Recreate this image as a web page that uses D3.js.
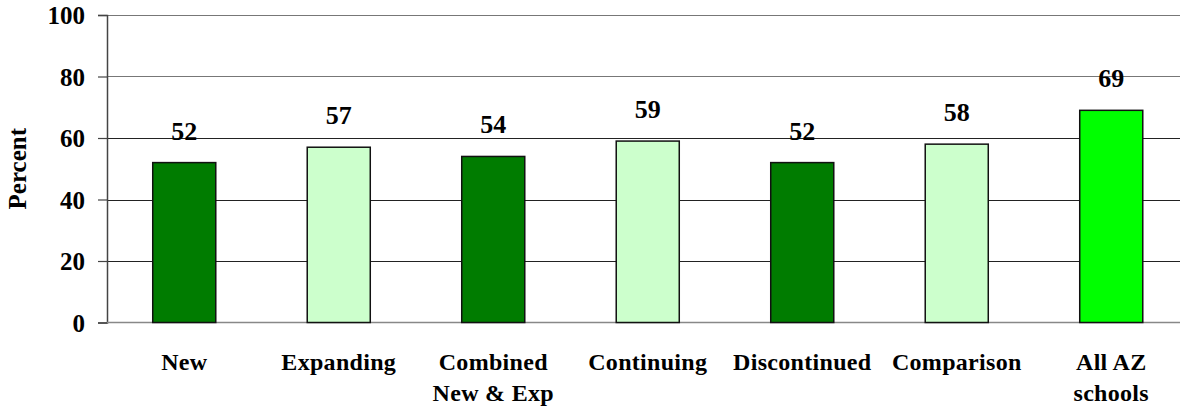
<!DOCTYPE html>
<html>
<head>
<meta charset="utf-8">
<script src="https://cdn.jsdelivr.net/npm/d3@7"></script>
<style>
  body { margin: 0; background: #fff; }
  svg text { font-family: "Liberation Serif", "Times New Roman", serif; font-weight: bold; fill: #000; }
</style>
</head>
<body>
<div id="chart"></div>
<script>
"use strict";

// data
var categories = [["New"], ["Expanding"], ["Combined", "New & Exp"], ["Continuing"], ["Discontinued"], ["Comparison"], ["All AZ", "schools"]];
var values = [52, 57, 54, 59, 52, 58, 69];
var barColors = ["#007c00", "#ccffcc", "#007c00", "#ccffcc", "#007c00", "#ccffcc", "#00ff00"];
var yTicks = [0, 20, 40, 60, 80, 100];

var width = 1180;
var height = 408;
var margin = { top: 15, left: 107, bottom: 322.5 };
var step = 154.5;

var svg = d3.select("#chart")
  .append("svg")
  .attr("width", width)
  .attr("height", height);

var x = d3.scaleBand()
  .domain(d3.range(values.length))
  .range([margin.left, margin.left + step * values.length])
  .paddingInner(0.592)
  .paddingOuter(0.296);

var y = d3.scaleLinear()
  .domain([0, 100])
  .range([margin.bottom, margin.top]);

// grid lines
svg.append("g")
  .selectAll("line")
  .data(yTicks.filter(function(d) { return d > 0; }))
  .enter()
  .append("line")
    .attr("x1", margin.left)
    .attr("x2", width)
    .attr("y1", function(d) { return Math.round(y(d)) + 0.5; })
    .attr("y2", function(d) { return Math.round(y(d)) + 0.5; })
    .attr("stroke", function(d) { return d >= 80 ? "#777" : "#222"; })
    .attr("stroke-width", 1.2);

// y axis
var yAxis = svg.append("g")
  .attr("transform", "translate(" + margin.left + ",0)")
  .call(d3.axisLeft(y).tickValues(yTicks).tickSize(9).tickPadding(13));
yAxis.select(".domain").attr("stroke", "#444").attr("stroke-width", 1.5);
yAxis.selectAll(".tick line").attr("stroke", "#444").attr("stroke-width", 1.2);
yAxis.selectAll("text")
  .attr("font-size", 25)
  .attr("dy", "0.35em");

// bottom line
svg.append("line")
  .attr("x1", margin.left)
  .attr("x2", width)
  .attr("y1", y(0))
  .attr("y2", y(0))
  .attr("stroke", "#888")
  .attr("stroke-width", 1.5);

// bars
svg.append("g")
  .selectAll("rect")
  .data(values)
  .enter()
  .append("rect")
    .attr("x", function(d, i) { return x(i); })
    .attr("y", function(d) { return y(d); })
    .attr("width", x.bandwidth())
    .attr("height", function(d) { return y(0) - y(d); })
    .attr("fill", function(d, i) { return barColors[i]; })
    .attr("stroke", "#111")
    .attr("stroke-width", 1.5);

// value labels
svg.append("g")
  .selectAll("text")
  .data(values)
  .enter()
  .append("text")
    .attr("x", function(d, i) { return x(i) + x.bandwidth() / 2; })
    .attr("y", function(d) { return y(d) - 23; })
    .attr("text-anchor", "middle")
    .attr("font-size", 26)
    .text(function(d) { return d; });

// category labels
var catLabels = svg.append("g")
  .selectAll("text")
  .data(categories)
  .enter()
  .append("text")
    .attr("x", function(d, i) { return x(i) + x.bandwidth() / 2; })
    .attr("y", 370)
    .attr("text-anchor", "middle")
    .attr("font-size", 24);
catLabels.each(function(lines) {
  var t = d3.select(this);
  lines.forEach(function(line, k) {
    t.append("tspan")
      .attr("x", t.attr("x"))
      .attr("dy", k === 0 ? 0 : 31)
      .attr("letter-spacing", 0.3)
      .text(line);
  });
});

// y title
svg.append("text")
  .attr("transform", "translate(26," + ((margin.top + margin.bottom) / 2) + ") rotate(-90)")
  .attr("text-anchor", "middle")
  .attr("font-size", 25)
  .text("Percent");
</script>
</body>
</html>
